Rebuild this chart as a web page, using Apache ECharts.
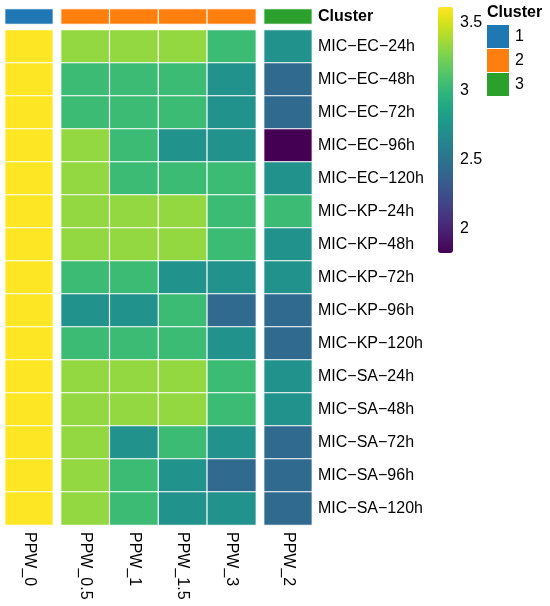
<!DOCTYPE html>
<html>
<head>
<meta charset="utf-8">
<script src="https://cdn.jsdelivr.net/npm/echarts@6/dist/echarts.min.js"></script>
<style>
  html, body { margin: 0; padding: 0; background: #fff; }
  #main { width: 550px; height: 606px; }
</style>
</head>
<body>
<div id="main"></div>
<script>
// 行名（从上到下）
const rows = ['MIC−EC−24h', 'MIC−EC−48h', 'MIC−EC−72h', 'MIC−EC−96h', 'MIC−EC−120h',
  'MIC−KP−24h', 'MIC−KP−48h', 'MIC−KP−72h', 'MIC−KP−96h', 'MIC−KP−120h',
  'MIC−SA−24h', 'MIC−SA−48h', 'MIC−SA−72h', 'MIC−SA−96h', 'MIC−SA−120h'];
// 列名，分成三组（对应三个 cluster）
const cols = ['PPW_0', 'PPW_0.5', 'PPW_1', 'PPW_1.5', 'PPW_3', 'PPW_2'];
const clusters = [1, 2, 2, 2, 2, 3];
const clusterColors = ['#1f77b4', '#ff7f0e', '#2ca02c'];

// 每列的数值（按 rows 顺序）
const ppw_0   = [3.61, 3.61, 3.61, 3.61, 3.61, 3.61, 3.61, 3.61, 3.61, 3.61, 3.61, 3.61, 3.61, 3.61, 3.61];
const ppw_0_5 = [3.32, 3.04, 3.04, 3.32, 3.32, 3.32, 3.32, 3.04, 2.72, 3.04, 3.32, 3.32, 3.32, 3.32, 3.32];
const ppw_1   = [3.32, 3.04, 3.04, 3.04, 3.04, 3.32, 3.32, 3.04, 2.72, 3.04, 3.32, 3.32, 2.72, 3.04, 3.04];
const ppw_1_5 = [3.32, 3.04, 3.04, 2.72, 3.04, 3.32, 3.32, 2.72, 3.04, 3.04, 3.32, 3.32, 3.04, 2.72, 2.72];
const ppw_3   = [3.04, 2.72, 2.72, 2.72, 3.04, 3.04, 3.04, 2.72, 2.43, 2.72, 3.04, 3.04, 2.72, 2.43, 2.72];
const ppw_2   = [2.72, 2.43, 2.43, 1.82, 2.72, 3.04, 2.72, 2.72, 2.43, 2.43, 2.72, 2.72, 2.43, 2.43, 2.43];
const values = [ppw_0, ppw_0_5, ppw_1, ppw_1_5, ppw_3, ppw_2];

// 色条刻度
const colorMin = 1.82, colorMax = 3.61;
const colorTicks = [2, 2.5, 3, 3.5];
const viridis = ['#440154', '#471365', '#482475', '#463480', '#414487', '#3b528b', '#355f8d',
  '#2f6c8e', '#2a788e', '#25848e', '#21918c', '#1e9c89', '#22a884', '#2fb47c', '#44bf70',
  '#5ec962', '#7ad151', '#9bd93c', '#bddf26', '#dfe318', '#fde725'];

const FONT = 'Liberation Sans, Arial, Helvetica, sans-serif';

// 三组列：[起始列, 结束列, left, width]
const groups = [[0, 0, 5, 48], [1, 4, 61, 195], [5, 5, 264, 48]];

let grid = [], xAxis = [], yAxis = [], series = [];
groups.forEach((g, gi) => {
  const gcols = cols.slice(g[0], g[1] + 1);
  // 主热图
  grid.push({left: g[2], width: g[3], top: 30, height: 495});
  xAxis.push({
    type: 'category', gridIndex: gi, data: gcols, position: 'bottom',
    axisLine: {show: false}, axisTick: {show: false}, splitLine: {show: false},
    axisLabel: {rotate: -90, margin: 7, fontSize: 16, color: '#000', fontFamily: FONT}
  });
  yAxis.push({
    type: 'category', gridIndex: gi, data: rows, inverse: true, position: 'right',
    show: gi === 2,
    axisLine: {show: false}, axisTick: {show: false}, splitLine: {show: false},
    axisLabel: {margin: 6, fontSize: 16, color: '#000', fontFamily: FONT}
  });
  const data = [];
  gcols.forEach((c, ci) => {
    values[g[0] + ci].forEach((v, ri) => data.push([ci, ri, v]));
  });
  series.push({
    type: 'heatmap', xAxisIndex: gi, yAxisIndex: gi, data: data,
    itemStyle: {borderColor: '#fff', borderWidth: 1.2}
  });
});
// 顶部 cluster 注释条
groups.forEach((g, gi) => {
  const idx = 3 + gi;
  const gcols = cols.slice(g[0], g[1] + 1);
  grid.push({left: g[2], width: g[3], top: 9, height: 15});
  xAxis.push({type: 'category', gridIndex: idx, data: gcols, show: false});
  yAxis.push({
    type: 'category', gridIndex: idx, data: ['Cluster'], position: 'right',
    show: gi === 2,
    axisLine: {show: false}, axisTick: {show: false}, splitLine: {show: false},
    axisLabel: {margin: 6, fontSize: 16, fontWeight: 'bold', color: '#000', fontFamily: FONT}
  });
  series.push({
    type: 'heatmap', xAxisIndex: idx, yAxisIndex: idx,
    data: gcols.map((c, ci) => [ci, 0, clusters[g[0] + ci]]),
    itemStyle: {borderColor: '#fff', borderWidth: 1.2}
  });
});
// 色条的刻度轴
grid.push({left: 438, width: 15, top: 7, height: 246});
xAxis.push({type: 'value', gridIndex: 6, show: false});
yAxis.push({
  type: 'value', gridIndex: 6, min: colorMin, max: colorMax, position: 'right',
  axisLine: {show: false}, axisTick: {show: false}, splitLine: {show: false},
  axisLabel: {customValues: colorTicks, margin: 7, fontSize: 16, color: '#000', fontFamily: FONT}
});
series.push({type: 'scatter', xAxisIndex: 6, yAxisIndex: 6, data: []});

const option = {
  animation: false,
  backgroundColor: '#fff',
  title: {
    text: 'Cluster', left: 487, top: 5, padding: 0,
    textStyle: {fontSize: 16, fontWeight: 'bold', color: '#000', fontFamily: FONT}
  },
  grid: grid,
  xAxis: xAxis,
  yAxis: yAxis,
  visualMap: [{
    type: 'continuous', seriesIndex: [0, 1, 2], min: colorMin, max: colorMax,
    left: 438, top: 7, itemWidth: 15, itemHeight: 246, padding: 0,
    calculable: false, realtime: false, hoverLink: false,
    inRange: {color: viridis}
  }, {
    type: 'piecewise', seriesIndex: [3, 4, 5],
    left: 487, top: 25, padding: 0, orient: 'vertical', align: 'left', inverse: true,
    itemWidth: 22, itemHeight: 23, itemGap: 1, itemSymbol: 'rect', textGap: 6,
    selectedMode: false, hoverLink: false,
    textStyle: {fontSize: 16, color: '#000', fontFamily: FONT},
    pieces: clusters.filter((c, i) => clusters.indexOf(c) === i)
      .map(c => ({value: c, label: String(c), color: clusterColors[c - 1]}))
  }],
  series: series
};

const myChart = echarts.init(document.getElementById('main'));
myChart.setOption(option);
</script>
</body>
</html>
